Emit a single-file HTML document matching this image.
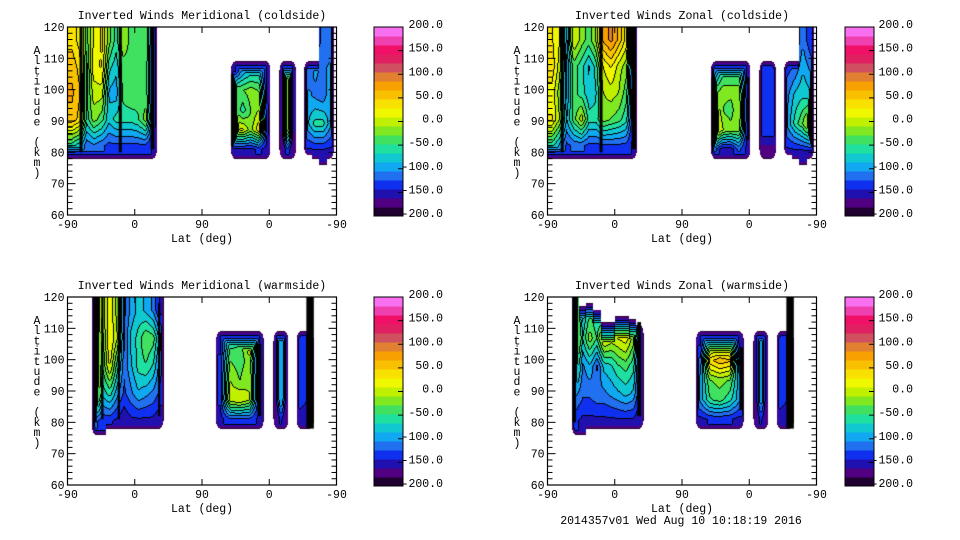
<!DOCTYPE html>
<html><head><meta charset="utf-8">
<style>
body{margin:0;background:#fff;}
#root{position:relative;width:960px;height:540px;overflow:hidden;background:#fff;font-family:"Liberation Mono",monospace;}
canvas{position:absolute;}
svg{position:absolute;left:0;top:0;}
text{font-family:"Liberation Mono",monospace;font-size:11.5px;fill:#000;}
</style></head>
<body>
<div id="root">
<svg id="ax" width="960" height="540"></svg>
</div>
<script>
// ---- colour scale ----
const levelColors = ['#200030','#500080','#2010b0','#1030f0','#2070f0','#10a8f0','#10c8d0','#20e0a0','#40e060','#80e820','#c0f000','#f0f800','#f8e000','#f8c000','#f8a000','#e08030','#d05060','#e02060','#f01068','#f040b0','#f870f0'];
const colorbarLabels = ['200.0','150.0','100.0','50.0','0.0','-50.0','-100.0','-150.0','-200.0'];
const yTicks = [60,70,80,90,100,110,120];
const xTickLabels = ['-90','0','90','0','-90'];

// ---- data ----
const TL_A_range=[0,119,120,78];
const TL_A_vals=[[40,60,70,60,-60],[20,40,50,40,-80],[-40,-60,-60,-60,-120],[10,20,0,-20,-110],[30,30,0,-40,-120],[-20,-60,-90,-80,-130],[-60,-80,-100,-60,-130],[-10,-40,-40,-60,-130],[-40,-40,-30,-60,-130],[-40,-40,-40,-50,-130],[-30,-40,-40,-20,-130],[-140,-140,-140,-140,-150]];
const TL_B_range=[218,271,109,78];
const TL_B_vals=[[-150,-30,-30,10,-150],[-100,-30,-60,10,-150],[-80,-20,-30,-20,-150],[-80,-30,-10,20,-140],[-150,-150,-140,-140,-150]];
const TL_C_range=[283,305,109,78];
const TL_C_vals=[[-160,-160,-160,-160,-170],[-20,-20,-20,-20,-130],[-160,-160,-160,-160,-170]];
const TL_D_range=[316,356,120,76];
const TL_D_vals=[[-140,-120,-100,-90,-150],[-140,-100,-110,-60,-150],[-120,-110,-120,-60,-150],[-120,-100,-90,-100,-150]];
const TL_D_tops=[109,109,120,120];
const TL_D_bots=[79,78,76,78];
const TL_stripes=[[17.4,4,120,80],[70,4,120,80],[113,5,120,81],[220,4,105,82]];

const TR_A_vals=[[30,40,20,30,-60],[10,0,-20,-10,-90],[-100,-110,-110,-90,-130],[10,-40,-40,-40,-120],[-20,-60,-60,0,-120],[-40,-90,-80,-60,-130],[-10,-60,-70,-60,-130],[70,10,-10,-20,-130],[90,30,0,-30,-130],[60,0,-10,-40,-130],[20,-20,-40,-60,-130],[-150,-150,-150,-150,-150]];
const TR_B_vals=[[-120,-40,20,40,-120],[-60,-20,-30,-10,-160],[-60,-20,-40,-20,-160],[-60,-20,-10,-20,-120],[-150,-140,-140,-140,-150]];
const TR_C_vals=[[-130,-125,-125,-130,-170],[-130,-125,-125,-130,-170]];
const TR_D_vals=[[-150,-130,-110,-100,-150],[-150,-120,-80,-60,-150],[-110,-90,-70,-30,-150],[-140,-110,-80,20,-150]];
const TR_stripes=[[19,4,120,80],[71,4,120,80],[115,6,120,81],[221,5,104,82],[268,3,104,84]];

const BL_A_range=[32,128,120,76];
const BL_A_vals=[[80,40,20,30,-120],[-20,-40,-50,-80,-140],[20,30,10,-60,-140],[-20,-10,-60,-100,-150],[-130,-130,-120,-130,-160],[-100,-80,-90,-110,-150],[-80,-60,-60,-90,-150],[-90,-30,-50,-100,-150],[-110,-40,-70,-110,-150],[-150,-100,-120,-130,-160]];
const BL_A_bots=[76,76,78,78,78,78,78,78,78,78];
const BL_B_range=[198,262,109,78];
const BL_B_vals=[[-150,-140,-140,-140,-150],[-60,-30,-10,0,-130],[-50,-40,-30,10,-130],[20,-20,-10,-10,-130],[-150,-150,-150,-150,-150]];
const BL_C_range=[275,295,109,78];
const BL_C_vals=[[-160,-160,-160,-160,-170],[-80,-80,-80,-80,-140],[-160,-160,-160,-160,-170]];
const BL_D_range=[306,329,109,78];
const BL_D_vals=[[-130,-130,-130,-130,-160],[-150,-150,-150,-150,-160]];
const BL_stripes=[[37,3,120,80],[46,3,120,81],[68,3,120,81],[122,3,118,82],[256,5,105,82],[324,10,120,78]];

const BR_A_vals=[[20,10,-40,-100,-140],[-100,-70,-110,-120,-150],[-50,-20,-90,-120,-150],[-80,-50,-130,-110,-150],[-90,20,-80,-110,-150],[-60,0,-70,-100,-150],[50,10,-50,-90,-150],[40,20,-40,-80,-150],[-10,-20,-60,-90,-150],[-150,-150,-150,-150,-160]];
const BR_A_tops=[120,117,118,116,112,112,114,114,113,111];
const BR_B_vals=[[-150,-120,-100,-100,-150],[-60,40,-30,-50,-140],[-40,60,-20,-40,-140],[-50,50,-30,-60,-140],[-150,-130,-100,-100,-150]];
const BR_C_vals=[[-160,-160,-160,-160,-170],[-90,-90,-90,-90,-140],[-160,-160,-160,-160,-170]];
const BR_D_vals=[[-130,-130,-130,-130,-160],[-150,-150,-150,-150,-160]];
const BR_stripes=[[35,5,120,80],[122,5,112,82],[258,4,104,84],[324,10,120,78]];

const panels=[
 {key:'tl',ox:0,oy:0,title:'Inverted Winds Meridional (coldside)',
  swaths:[{r:TL_A_range,v:TL_A_vals},{r:TL_B_range,v:TL_B_vals},{r:TL_C_range,v:TL_C_vals},{r:TL_D_range,v:TL_D_vals,tops:TL_D_tops,bots:TL_D_bots}],stripes:TL_stripes,cb:374,lab:443},
 {key:'tr',ox:480,oy:0,title:'Inverted Winds Zonal (coldside)',
  swaths:[{r:TL_A_range,v:TR_A_vals},{r:TL_B_range,v:TR_B_vals},{r:TL_C_range,v:TR_C_vals},{r:TL_D_range,v:TR_D_vals,tops:TL_D_tops,bots:TL_D_bots}],stripes:TR_stripes,cb:365,lab:433},
 {key:'bl',ox:0,oy:270,title:'Inverted Winds Meridional (warmside)',
  swaths:[{r:BL_A_range,v:BL_A_vals,bots:BL_A_bots},{r:BL_B_range,v:BL_B_vals},{r:BL_C_range,v:BL_C_vals},{r:BL_D_range,v:BL_D_vals}],stripes:BL_stripes,cb:374,lab:443},
 {key:'br',ox:480,oy:270,title:'Inverted Winds Zonal (warmside)',
  swaths:[{r:BL_A_range,v:BR_A_vals,tops:BR_A_tops,bots:BL_A_bots},{r:BL_B_range,v:BR_B_vals},{r:BL_C_range,v:BR_C_vals},{r:BL_D_range,v:BR_D_vals}],stripes:BR_stripes,cb:365,lab:433}
];

const root=document.getElementById('root');
const svg=document.getElementById('ax');
const NS='http://www.w3.org/2000/svg';
function mk(tag,attrs,parent){const e=document.createElementNS(NS,tag);for(const k in attrs)e.setAttribute(k,attrs[k]);(parent||svg).appendChild(e);return e;}
function hex(c){return [parseInt(c.slice(1,3),16),parseInt(c.slice(3,5),16),parseInt(c.slice(5,7),16)];}
const rgb=levelColors.map(hex);
const PW=269,PH=188,PL=67.5,PT=27;

function nearArr(a,f){ if(!a) return null; const n=a.length; return a[Math.max(0,Math.min(n-1,Math.floor(f*n)))];}
function sampleGrid(v,fx,fy){const C=v.length,R=v[0].length;let x=fx*C-0.5,y=fy*R-0.5;x=Math.max(0,Math.min(C-1,x));y=Math.max(0,Math.min(R-1,y));const i=Math.floor(x),j=Math.min(C-1,i+1),k=Math.floor(y),l=Math.min(R-1,k+1),tx=x-i,ty=y-k;return (v[i][k]*(1-tx)+v[j][k]*tx)*(1-ty)+(v[i][l]*(1-tx)+v[j][l]*tx)*ty;}

panels.forEach(p=>{
  const cv=document.createElement('canvas');
  cv.width=PW;cv.height=PH;
  cv.style.left=(p.ox+PL)+'px';cv.style.top=(p.oy+PT)+'px';
  
  
  root.insertBefore(cv,svg);
  const ctx=cv.getContext('2d');
  const band=new Int8Array(PW*PH).fill(-1);
  const uOf=px=>(px+0.5)/PW*360, altOf=py=>120-(py+0.5)/PH*60, yOf=a=>(120-a)/60*PH, xOf=u=>u/360*PW;
  const R=10;
  for(const s of p.swaths){
    const [u0,u1,gT,gB]=s.r;
    const x0=xOf(u0),x1=xOf(u1);
    for(let px=Math.floor(x0);px<Math.ceil(x1);px++){
      const u=uOf(px); if(u<u0||u>u1) continue;
      const fx=(u-u0)/(u1-u0);
      const top=s.tops?nearArr(s.tops,fx):gT, bot=s.bots?nearArr(s.bots,fx):gB;
      const yt=yOf(top),yb=yOf(bot);
      for(let py=Math.max(0,Math.floor(yt));py<Math.min(PH,Math.ceil(yb));py++){
        const a=altOf(py); if(a>top||a<bot) continue;
        const fy=(gT-a)/(gT-gB);
        let v=sampleGrid(s.v,fx,fy);
        const dl=u0<=0?99:(px+0.5-x0)*2.4;
        const dx=Math.min(dl,(x1-px-0.5)*2.4);
        const dyT=top>=119.9?99:py+0.5-yt, dyB=yb-py-0.5;
        const dy=Math.min(dyT,dyB);
        let d;
        if(dx<R&&dy<R){d=R-Math.hypot(R-dx,R-dy);}else d=Math.min(dx,dy);
        if(d<0) continue;
        v=Math.min(v,-188+d*9);
        let b=Math.floor((v+200)/400*21); b=Math.max(0,Math.min(20,b));
        band[py*PW+px]=b;
      }
    }
  }
  const img=ctx.createImageData(PW,PH);
  for(let i=0;i<PW*PH;i++){
    const b=band[i]; if(b<0) continue;
    const px=i%PW;
    let line=false;
    if(b>=2){
      if(px>0&&band[i-1]>=0&&band[i-1]>b) line=true;
      if(px<PW-1&&band[i+1]>=0&&band[i+1]>b) line=true;
      if(i>=PW&&band[i-PW]>=0&&band[i-PW]>b) line=true;
      if(i+PW<PW*PH&&band[i+PW]>=0&&band[i+PW]>b) line=true;
    }
    const c=line?[0,0,0]:rgb[b];
    img.data[i*4]=c[0];img.data[i*4+1]=c[1];img.data[i*4+2]=c[2];img.data[i*4+3]=255;
  }
  ctx.putImageData(img,0,0);
  ctx.fillStyle='#000';
  for(const st of p.stripes){
    const [u,w,at,ab]=st;
    ctx.fillRect(xOf(u-w/2),yOf(at),Math.max(2,xOf(w)),yOf(ab)-yOf(at));
  }

  const g=mk('g',{});
  
  
  const L=p.ox+PL,T=p.oy+PT;
  mk('rect',{x:L,y:T,width:PW,height:PH,fill:'none',stroke:'#000','stroke-width':1.2},g);
  for(let a=60;a<=120;a+=2){
    const y=T+(120-a)/60*PH, len=(a%10===0)?8:5;
    mk('line',{x1:L,x2:L+len,y1:y,y2:y,stroke:'#000','stroke-width':1},g);
    mk('line',{x1:L+PW,x2:L+PW-len,y1:y,y2:y,stroke:'#000','stroke-width':1},g);
  }
  yTicks.forEach(a=>{
    const t=mk('text',{x:L-3,y:T+(120-a)/60*PH+4,'text-anchor':'end'},g);t.textContent=a;
    
    
  });
  xTickLabels.forEach((lb,i)=>{
    const x=L+i*PW/4;
    mk('line',{x1:x,x2:x,y1:T+PH,y2:T+PH-6,stroke:'#000'},g);
    mk('line',{x1:x,x2:x,y1:T,y2:T+6,stroke:'#000'},g);
    const t=mk('text',{x:x,y:T+PH+13,'text-anchor':'middle'},g);t.textContent=lb;
    
    
  });
  const tt=mk('text',{x:L+PW/2,y:p.oy+19,'text-anchor':'middle'},g);tt.textContent=p.title;
  
  
  const xl=mk('text',{x:L+PW/2,y:T+PH+27,'text-anchor':'middle'},g);xl.textContent='Lat (deg)';
  
  
  const yl=mk('g',{},g);
  
  
  'Altitude (km)'.split('').forEach((ch,i)=>{
    const c=mk('text',{x:p.ox+37,y:p.oy+54+i*10.2,'text-anchor':'middle'},yl);
    c.textContent=ch;
  });
  const cb=mk('g',{},g);
  
  
  const cx=p.ox+p.cb,cw=29,ch=189,n=levelColors.length;
  levelColors.forEach((c,i)=>{
    mk('rect',{x:cx,y:T+ch-(i+1)*ch/n,width:cw,height:ch/n+0.5,fill:c},cb);
  });
  mk('rect',{x:cx,y:T,width:cw,height:ch,fill:'none',stroke:'#000'},cb);
  colorbarLabels.forEach((lb,i)=>{
    const y=T+i*ch/8;
    if(i>0&&i<8) mk('line',{x1:cx+cw-5,x2:cx+cw,y1:y,y2:y,stroke:'#000'},cb);
    const t=mk('text',{x:p.ox+p.lab,y:y+1,'text-anchor':'end'},cb);t.textContent=lb;
  });
});
const ft=mk('text',{x:681,y:524,'text-anchor':'middle'});
ft.textContent='2014357v01 Wed Aug 10 10:18:19 2016';


</script>
</body></html>
